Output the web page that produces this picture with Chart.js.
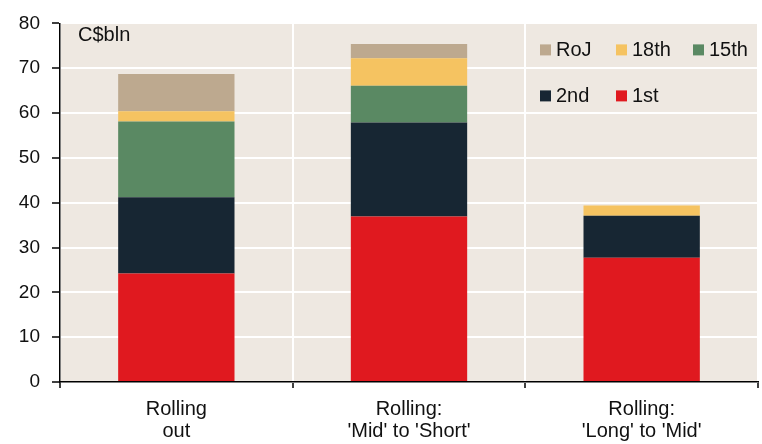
<!DOCTYPE html>
<html>
<head>
<meta charset="utf-8">
<script src="https://cdn.jsdelivr.net/npm/chart.js@4.4.1/dist/chart.umd.min.js"></script>
<style>
  html, body { margin: 0; padding: 0; background: #ffffff; }
  #wrap { width: 762px; height: 444px; }
</style>
</head>
<body>
<div id="wrap"><canvas id="c" width="762" height="444"></canvas></div>
<script>
// Categories (multi-line axis labels)
const categories = [
  ["Rolling", "out"],
  ["Rolling:", "'Mid' to 'Short'"],
  ["Rolling:", "'Long' to 'Mid'"]
];

// Series values, C$bln, stacked bottom to top
const first   = [24.2, 36.9, 27.7];
const second  = [17.0, 21.0, 9.4];
const fifteen = [16.9, 8.2, 0];
const eighteen = [2.3, 6.1, 2.3];
const roj     = [8.3, 3.2, 0];

const yTicks = [0, 10, 20, 30, 40, 50, 60, 70, 80];

const seriesNames = ["1st", "2nd", "15th", "18th", "RoJ"];
const seriesColors = ["#e0191f", "#172633", "#5a8963", "#f5c361", "#bda98f"];
const seriesData = [first, second, fifteen, eighteen, roj];

const FONT = "'Liberation Sans', Arial, sans-serif";

// Plot background fill
const plotBackground = {
  id: 'plotBackground',
  beforeDraw(chart) {
    const { ctx, chartArea: a } = chart;
    ctx.save();
    ctx.fillStyle = '#eee8e1';
    ctx.fillRect(a.left, a.top, a.right - a.left, a.bottom - a.top);
    ctx.restore();
  }
};

// Unit label and two-row legend inside the plot area
const insideLabels = {
  id: 'insideLabels',
  afterDraw(chart) {
    const { ctx, chartArea: a } = chart;
    ctx.save();
    ctx.font = '20px ' + FONT;
    ctx.fillStyle = '#111';
    ctx.textBaseline = 'middle';
    ctx.textAlign = 'left';
    ctx.fillText('C$bln', a.left + 18, a.top + 12);

    const rows = [["RoJ", "18th", "15th"], ["2nd", "1st"]];
    const colX = [a.left + 480, a.left + 556, a.left + 633];
    const rowY = [a.top + 26, a.top + 72];
    rows.forEach((row, r) => {
      row.forEach((name, c) => {
        const i = seriesNames.indexOf(name);
        const ds = chart.data.datasets[i];
        const x = colX[c], y = rowY[r];
        ctx.fillStyle = ds.backgroundColor;
        ctx.fillRect(x, y - 5, 11, 11);
        ctx.fillStyle = '#111';
        ctx.fillText(ds.label, x + 16, y + 1);
      });
    });
    ctx.restore();
  }
};

new Chart(document.getElementById('c'), {
  type: 'bar',
  data: {
    labels: categories,
    datasets: seriesNames.map((name, i) => ({
      label: name,
      data: seriesData[i],
      backgroundColor: seriesColors[i],
      borderWidth: 0,
      categoryPercentage: 1.0,
      barPercentage: 0.5
    }))
  },
  options: {
    responsive: false,
    animation: false,
    devicePixelRatio: 1,
    layout: { padding: { top: 18, right: 4, left: 0, bottom: 0 } },
    plugins: {
      legend: { display: false },
      tooltip: { enabled: false }
    },
    scales: {
      x: {
        stacked: true,
        offset: true,
        grid: {
          offset: true,
          color: '#ffffff',
          lineWidth: 2,
          tickColor: '#000000',
          tickWidth: 1.5,
          tickLength: 6,
          drawOnChartArea: true
        },
        border: { color: '#000000', width: 1.5 },
        ticks: {
          color: '#111',
          font: { family: FONT, size: 20, lineHeight: 1.1 },
          padding: 10,
          maxRotation: 0,
          autoSkip: false
        },
        afterFit(scale) { scale.height = 62; }
      },
      y: {
        stacked: true,
        min: 0,
        max: 80,
        afterBuildTicks(scale) { scale.ticks = yTicks.map(v => ({ value: v })); },
        grid: {
          color: '#ffffff',
          lineWidth: 2,
          tickColor: '#000000',
          tickWidth: 1.5,
          tickLength: 8
        },
        border: { color: '#000000', width: 1.5 },
        ticks: {
          color: '#111',
          font: { family: FONT, size: 19 },
          padding: 12
        },
        afterFit(scale) { scale.width = 60; }
      }
    }
  },
  plugins: [plotBackground, insideLabels]
});
</script>
</body>
</html>
